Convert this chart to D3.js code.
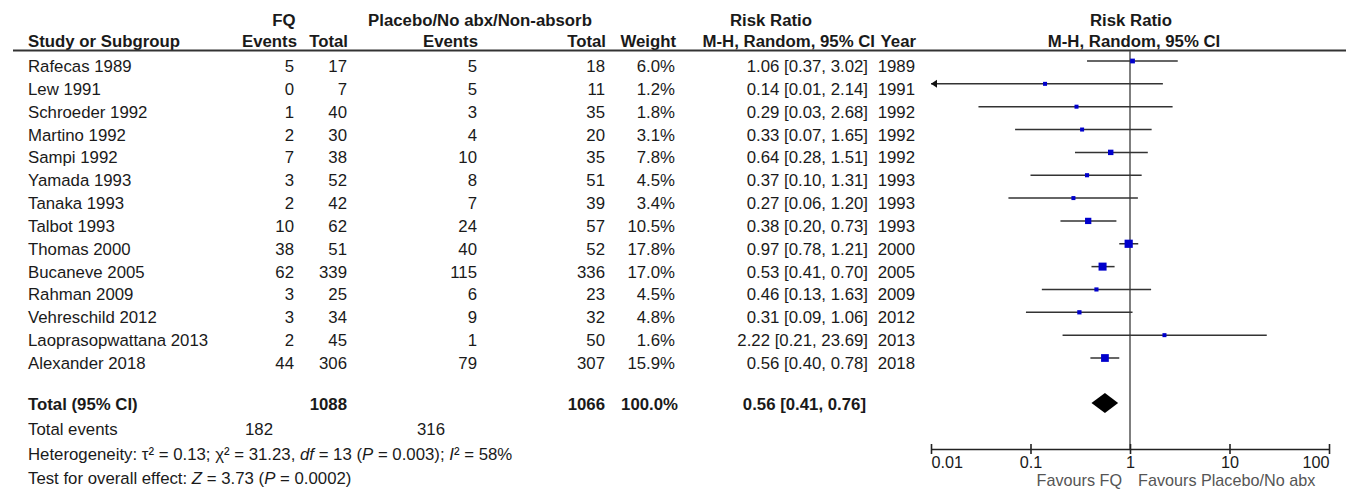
<!DOCTYPE html>
<html lang="en">
<head>
<meta charset="UTF-8">
<title>Forest plot - FQ vs placebo</title>
<script src="https://d3js.org/d3.v7.min.js"></script>
<style>
  body { margin: 0; background: #fff; }
  svg { display: block; font-family: "Liberation Sans", Arial, sans-serif; font-size: 16.8px; }
  text { fill: #1a1a1a; }
  .b { font-weight: bold; }
  .fav { fill: #555; font-size: 16.2px; }
</style>
</head>
<body>
<svg width="1346" height="490"></svg>
<script>
// data
const studies = ["Rafecas 1989", "Lew 1991", "Schroeder 1992", "Martino 1992", "Sampi 1992",
  "Yamada 1993", "Tanaka 1993", "Talbot 1993", "Thomas 2000", "Bucaneve 2005",
  "Rahman 2009", "Vehreschild 2012", "Laoprasopwattana 2013", "Alexander 2018"];
const fqEvents = [5, 0, 1, 2, 7, 3, 2, 10, 38, 62, 3, 3, 2, 44];
const fqTotal = [17, 7, 40, 30, 38, 52, 42, 62, 51, 339, 25, 34, 45, 306];
const ctlEvents = [5, 5, 3, 4, 10, 8, 7, 24, 40, 115, 6, 9, 1, 79];
const ctlTotal = [18, 11, 35, 20, 35, 51, 39, 57, 52, 336, 23, 32, 50, 307];
const weights = [6.0, 1.2, 1.8, 3.1, 7.8, 4.5, 3.4, 10.5, 17.8, 17.0, 4.5, 4.8, 1.6, 15.9];
const rr = [1.06, 0.14, 0.29, 0.33, 0.64, 0.37, 0.27, 0.38, 0.97, 0.53, 0.46, 0.31, 2.22, 0.56];
const rrLo = [0.37, 0.01, 0.03, 0.07, 0.28, 0.10, 0.06, 0.20, 0.78, 0.41, 0.13, 0.09, 0.21, 0.40];
const rrHi = [3.02, 2.14, 2.68, 1.65, 1.51, 1.31, 1.20, 0.73, 1.21, 0.70, 1.63, 1.06, 23.69, 0.78];
const years = [1989, 1991, 1992, 1992, 1992, 1993, 1993, 1993, 2000, 2005, 2009, 2012, 2013, 2018];

const pooled = { rr: 0.56, lo: 0.41, hi: 0.76 };
const totalFq = 1088, totalCtl = 1066, totalEventsFq = 182, totalEventsCtl = 316;
const axisTicks = [0.01, 0.1, 1, 10, 100];

const svg = d3.select("svg");

// scales
const x = d3.scaleLog().domain([0.01, 100]).range([931, 1329]);
const y = d3.scalePoint().domain(studies).range([61, 358]);
const sq = d3.scaleSqrt().domain([0, d3.max(weights)]).range([0, 8.2]);
const totalY = 403;
const axisY = 449;

const fmt2 = d3.format(".2f");
const fmt1 = d3.format(".1f");
const ciText = (r, l, h) => `${fmt2(r)} [${fmt2(l)}, ${fmt2(h)}]`;

function cell(xp, yp, txt, anchor, cls) {
  return svg.append("text")
    .attr("x", xp).attr("y", yp)
    .attr("text-anchor", anchor || "start")
    .attr("class", cls || null)
    .text(txt);
}

// headers
cell(284, 26, "FQ", "middle", "b");
cell(480, 26, "Placebo/No abx/Non-absorb", "middle", "b");
cell(771, 26, "Risk Ratio", "middle", "b");
cell(1131, 26, "Risk Ratio", "middle", "b");
cell(28, 47, "Study or Subgroup", "start", "b");
cell(297, 47, "Events", "end", "b");
cell(348, 47, "Total", "end", "b");
cell(478, 47, "Events", "end", "b");
cell(606, 47, "Total", "end", "b");
cell(676, 47, "Weight", "end", "b");
cell(875, 47, "M-H, Random, 95% CI", "end", "b");
cell(916, 47, "Year", "end", "b");
cell(1134, 47, "M-H, Random, 95% CI", "middle", "b");

svg.append("line")
  .attr("x1", 13).attr("x2", 1346).attr("y1", 50.5).attr("y2", 50.5)
  .attr("stroke", "#333").attr("stroke-width", 1.8);

// study rows
const rows = svg.append("g").selectAll("g")
  .data(studies.map((s, i) => ({ s, i })))
  .join("g")
  .attr("transform", d => `translate(0,${y(d.s) + 11})`);

rows.append("text").attr("x", 28).text(d => d.s);
rows.append("text").attr("x", 294).attr("text-anchor", "end").text(d => fqEvents[d.i]);
rows.append("text").attr("x", 347).attr("text-anchor", "end").text(d => fqTotal[d.i]);
rows.append("text").attr("x", 477).attr("text-anchor", "end").text(d => ctlEvents[d.i]);
rows.append("text").attr("x", 605).attr("text-anchor", "end").text(d => ctlTotal[d.i]);
rows.append("text").attr("x", 675).attr("text-anchor", "end").text(d => fmt1(weights[d.i]) + "%");
rows.append("text").attr("x", 868).attr("text-anchor", "end").text(d => ciText(rr[d.i], rrLo[d.i], rrHi[d.i]));
rows.append("text").attr("x", 915).attr("text-anchor", "end").text(d => years[d.i]);

// total row
cell(28, 410, "Total (95% CI)", "start", "b");
cell(347, 410, totalFq, "end", "b");
cell(605, 410, totalCtl, "end", "b");
cell(678, 410, "100.0%", "end", "b");
cell(866, 410, ciText(pooled.rr, pooled.lo, pooled.hi), "end", "b");
cell(28, 435, "Total events");
cell(273, 435, totalEventsFq, "end");
cell(445, 435, totalEventsCtl, "end");

const het = svg.append("text").attr("x", 28).attr("y", 460);
het.append("tspan").text("Heterogeneity: τ² = 0.13; χ² = 31.23, ");
het.append("tspan").attr("font-style", "italic").text("df");
het.append("tspan").text(" = 13 (");
het.append("tspan").attr("font-style", "italic").text("P");
het.append("tspan").text(" = 0.003); ");
het.append("tspan").attr("font-style", "italic").text("I");
het.append("tspan").text("² = 58%");

const test = svg.append("text").attr("x", 28).attr("y", 484);
test.append("tspan").text("Test for overall effect: ");
test.append("tspan").attr("font-style", "italic").text("Z");
test.append("tspan").text(" = 3.73 (");
test.append("tspan").attr("font-style", "italic").text("P");
test.append("tspan").text(" = 0.0002)");

// plot: null line
svg.append("line")
  .attr("x1", x(1)).attr("x2", x(1)).attr("y1", 51).attr("y2", axisY)
  .attr("stroke", "#555").attr("stroke-width", 1.5);

// CI lines
const plot = svg.append("g");
studies.forEach((s, i) => {
  const yy = y(s);
  const lo = Math.max(rrLo[i], x.domain()[0]);
  const hi = Math.min(rrHi[i], x.domain()[1]);
  plot.append("line")
    .attr("x1", x(lo)).attr("x2", x(hi)).attr("y1", yy).attr("y2", yy)
    .attr("stroke", "#333").attr("stroke-width", 1.5);
  if (rrLo[i] <= x.domain()[0]) {
    const x0 = x(x.domain()[0]);
    plot.append("path")
      .attr("d", `M${x0},${yy} L${x0 + 6},${yy - 4} L${x0 + 6},${yy + 4} Z`)
      .attr("fill", "#111");
  }
  const w = Math.max(4, sq(weights[i]));
  plot.append("rect")
    .attr("x", x(rr[i]) - w / 2).attr("y", yy - w / 2)
    .attr("width", w).attr("height", w)
    .attr("fill", "#0000cc");
});

// pooled diamond
plot.append("path")
  .attr("d", `M${x(pooled.lo)},${totalY} L${x(pooled.rr)},${totalY - 10} L${x(pooled.hi)},${totalY} L${x(pooled.rr)},${totalY + 10} Z`)
  .attr("fill", "#000");

// axis
const ax = svg.append("g")
  .attr("transform", `translate(0,${axisY})`)
  .call(d3.axisBottom(x).tickValues(axisTicks).tickFormat(d3.format("~g")).tickSizeOuter(0));
ax.select(".domain").attr("stroke", "#222").attr("stroke-width", 1.6);
ax.selectAll(".tick line").attr("y1", -5).attr("y2", 5).attr("stroke", "#222").attr("stroke-width", 1.6);
ax.selectAll(".tick text")
  .attr("y", 19).attr("dy", 0)
  .attr("font-size", "16.2px").attr("font-family", "Liberation Sans, Arial, sans-serif")
  .attr("fill", "#1a1a1a")
  .attr("text-anchor", (d, i) => i === 0 ? "start" : (i === axisTicks.length - 1 ? "end" : "middle"));

cell(1122, 486, "Favours FQ", "end", "fav");
cell(1138, 486, "Favours Placebo/No abx", "start", "fav");
</script>
</body>
</html>
